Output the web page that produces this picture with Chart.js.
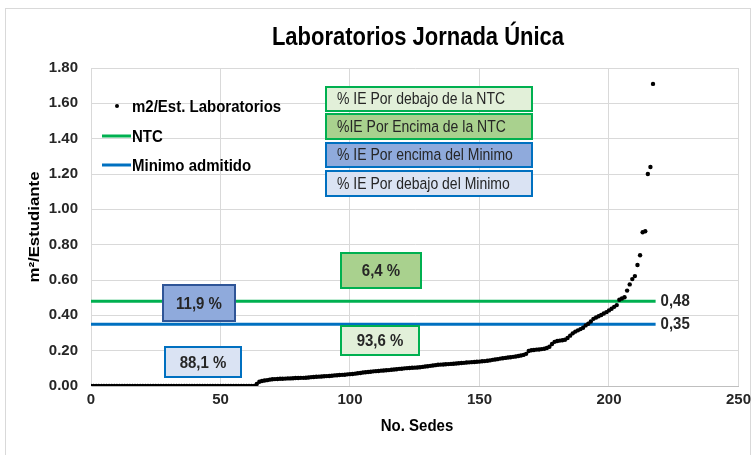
<!DOCTYPE html>
<html>
<head>
<meta charset="utf-8">
<script src="https://cdn.jsdelivr.net/npm/chart.js@4/dist/chart.umd.min.js"></script>
<style>body{margin:0;background:#fff}</style>
</head>
<body>
<canvas id="grafico" width="756" height="455"></canvas>
<script>
// Datos (m2 por estudiante, ordenados de menor a mayor)
const titulo = 'Laboratorios Jornada Única';
const m2PorEstudiante = [
    0, 0, 0, 0, 0, 0, 0, 0, 0, 0, 0, 0, 0, 0, 0, 0,
    0, 0, 0, 0, 0, 0, 0, 0, 0, 0, 0, 0, 0, 0, 0, 0,
    0, 0, 0, 0, 0, 0, 0, 0, 0, 0, 0, 0, 0, 0, 0, 0,
    0, 0, 0, 0, 0, 0, 0, 0, 0, 0, 0, 0, 0, 0, 0, 0,
    0.012, 0.024, 0.028, 0.031, 0.033, 0.036, 0.038, 0.039, 0.040, 0.041, 0.041, 0.042, 0.043, 0.043, 0.044, 0.045,
    0.045, 0.046, 0.046, 0.047, 0.048, 0.050, 0.051, 0.052, 0.053, 0.054, 0.055, 0.056, 0.057, 0.058, 0.060, 0.061,
    0.062, 0.063, 0.064, 0.066, 0.067, 0.068, 0.070, 0.072, 0.074, 0.076, 0.078, 0.079, 0.081, 0.083, 0.084, 0.085,
    0.087, 0.088, 0.089, 0.090, 0.092, 0.093, 0.095, 0.097, 0.098, 0.100, 0.101, 0.102, 0.103, 0.104, 0.105, 0.106,
    0.108, 0.110, 0.112, 0.114, 0.116, 0.118, 0.120, 0.121, 0.122, 0.123, 0.124, 0.125, 0.126, 0.127, 0.129, 0.130,
    0.131, 0.133, 0.134, 0.135, 0.136, 0.137, 0.138, 0.140, 0.141, 0.143, 0.145, 0.148, 0.150, 0.152, 0.155, 0.157,
    0.159, 0.161, 0.163, 0.165, 0.167, 0.170, 0.173, 0.176, 0.182, 0.198, 0.202, 0.204, 0.206, 0.207, 0.209, 0.211,
    0.215, 0.222, 0.238, 0.250, 0.255, 0.257, 0.259, 0.262, 0.272, 0.285, 0.298, 0.308, 0.315, 0.322, 0.330, 0.343,
    0.352, 0.365, 0.380, 0.388, 0.395, 0.402, 0.410, 0.418, 0.428, 0.437, 0.448, 0.458, 0.488, 0.495, 0.502, 0.540,
    0.575, 0.605, 0.622, 0.685, 0.740, 0.870, 0.876, 1.200, 1.240, 1.710
];
const valorNTC = 0.48;
const valorMinimo = 0.35;
const rangoSedes = [0, 218];
const etiquetasNivel = ['0,48', '0,35'];
const seriesLeyenda = ['m2/Est. Laboratorios', 'NTC', 'Minimo admitido'];
const textosCajas = ['% IE Por debajo de la NTC', '%IE Por Encima de la NTC', '% IE Por encima del Minimo', '% IE Por debajo del Minimo'];
const porcentajes = ['6,4 %', '11,9 %', '93,6 %', '88,1 %'];

const FUENTE = '"Liberation Sans", Arial, sans-serif';
const VERDE = '#00B050';
const AZUL = '#0070C0';

// Texto algo estirado en vertical, como en la imagen original
function texto(ctx, t, x, y, estiro) {
    ctx.save();
    ctx.translate(x, y);
    ctx.scale(1, estiro || 1.12);
    ctx.fillText(t, 0, 0);
    ctx.restore();
}

// Caja con relleno, borde y texto
function caja(ctx, x, y, w, h, relleno, borde, t, fuente, alinear) {
    ctx.fillStyle = relleno;
    ctx.fillRect(x, y, w, h);
    ctx.strokeStyle = borde;
    ctx.lineWidth = 2;
    ctx.strokeRect(x, y, w, h);
    ctx.fillStyle = '#262626';
    ctx.font = fuente;
    ctx.textBaseline = 'middle';
    if (alinear === 'left') {
        ctx.textAlign = 'left';
        texto(ctx, t, x + 11, y + h / 2 + 1);
    } else {
        ctx.textAlign = 'center';
        texto(ctx, t, x + w / 2, y + h / 2 + 1);
    }
}

const decoracion = {
    id: 'decoracion',
    beforeDraw(chart) {
        const ctx = chart.ctx;
        ctx.save();
        ctx.fillStyle = '#fff';
        ctx.fillRect(0, 0, chart.width, chart.height);
        ctx.strokeStyle = '#D9D9D9';
        ctx.lineWidth = 1;
        ctx.strokeRect(5.5, 8.5, 745, 460);
        ctx.restore();
    },
    afterDraw(chart) {
        const ctx = chart.ctx;
        const sx = chart.scales.x;
        const sy = chart.scales.y;
        ctx.save();

        // titulo
        ctx.fillStyle = '#000';
        ctx.font = 'bold 22px ' + FUENTE;
        ctx.textAlign = 'center';
        ctx.textBaseline = 'middle';
        texto(ctx, titulo, 418, 38, 1.15);

        // titulos de ejes
        ctx.font = 'bold 15px ' + FUENTE;
        texto(ctx, 'No. Sedes', 417, 426);
        ctx.save();
        ctx.translate(35, 227);
        ctx.rotate(-Math.PI / 2);
        ctx.scale(1.12, 1);
        ctx.fillText('m²/Estudiante', 0, 0);
        ctx.restore();

        // leyenda
        ctx.textAlign = 'left';
        ctx.fillStyle = '#000';
        ctx.beginPath();
        ctx.arc(117, 106, 2, 0, Math.PI * 2);
        ctx.fill();
        texto(ctx, seriesLeyenda[0], 132, 107);
        ctx.lineWidth = 3;
        ctx.strokeStyle = VERDE;
        ctx.beginPath(); ctx.moveTo(102, 136); ctx.lineTo(131, 136); ctx.stroke();
        texto(ctx, seriesLeyenda[1], 132, 137);
        ctx.strokeStyle = AZUL;
        ctx.beginPath(); ctx.moveTo(102, 165); ctx.lineTo(131, 165); ctx.stroke();
        texto(ctx, seriesLeyenda[2], 132, 166);

        // cajas explicativas
        const f14 = '14px ' + FUENTE;
        caja(ctx, 326, 87, 206, 24, '#E2F0D9', VERDE, textosCajas[0], f14, 'left');
        caja(ctx, 326, 114, 206, 25, '#A9D18E', VERDE, textosCajas[1], f14, 'left');
        caja(ctx, 326, 143, 206, 24, '#8FAADC', AZUL, textosCajas[2], f14, 'left');
        caja(ctx, 326, 171, 206, 25, '#DAE3F3', AZUL, textosCajas[3], f14, 'left');

        // porcentajes
        const f15 = 'bold 15px ' + FUENTE;
        caja(ctx, 341, 253, 80, 35, '#A9D18E', VERDE, porcentajes[0], f15);
        caja(ctx, 163, 285, 72, 36, '#8FAADC', '#2F5597', porcentajes[1], f15);
        caja(ctx, 341, 326, 78, 29, '#E2F0D9', VERDE, porcentajes[2], f15);
        caja(ctx, 165, 347, 76, 30, '#DAE3F3', AZUL, porcentajes[3], f15);

        // valores de las lineas
        ctx.fillStyle = '#262626';
        ctx.font = 'bold 15px ' + FUENTE;
        ctx.textAlign = 'left';
        ctx.textBaseline = 'middle';
        const xFin = sx.getPixelForValue(rangoSedes[1]) + 5;
        texto(ctx, etiquetasNivel[0], xFin, sy.getPixelForValue(valorNTC));
        texto(ctx, etiquetasNivel[1], xFin, sy.getPixelForValue(valorMinimo));
        ctx.restore();
    }
};

const ctx = document.getElementById('grafico').getContext('2d');
new Chart(ctx, {
    type: 'scatter',
    data: {
        datasets: [
            {
                label: seriesLeyenda[0],
                data: m2PorEstudiante.map((v, i) => ({ x: i, y: v })),
                backgroundColor: '#000',
                borderColor: '#000',
                pointRadius: 2.2,
                pointBorderWidth: 0
            },
            {
                label: seriesLeyenda[1],
                type: 'line',
                data: rangoSedes.map(s => ({ x: s, y: valorNTC })),
                borderColor: VERDE,
                borderWidth: 3,
                pointRadius: 0
            },
            {
                label: seriesLeyenda[2],
                type: 'line',
                data: rangoSedes.map(s => ({ x: s, y: valorMinimo })),
                borderColor: AZUL,
                borderWidth: 3,
                pointRadius: 0
            }
        ]
    },
    options: {
        responsive: false,
        animation: false,
        events: [],
        layout: { padding: { left: 0, right: 15, top: 68, bottom: 0 } },
        plugins: { legend: { display: false }, title: { display: false }, tooltip: { enabled: false } },
        scales: {
            x: {
                type: 'linear',
                min: 0, max: 250,
                afterFit: s => { s.height = 69; },
                ticks: { stepSize: 50, padding: 5, color: '#262626', font: { family: FUENTE, size: 15, weight: 'bold' } },
                grid: { color: '#D9D9D9', drawTicks: false },
                border: { color: '#BFBFBF' }
            },
            y: {
                min: 0, max: 1.8,
                afterFit: s => { s.width = 91; },
                ticks: { stepSize: 0.2, padding: 13, color: '#262626', font: { family: FUENTE, size: 15, weight: 'bold' },
                    callback: v => v.toFixed(2) },
                grid: { color: '#D9D9D9', drawTicks: false },
                border: { color: '#D9D9D9' }
            }
        }
    },
    plugins: [decoracion]
});
</script>
</body>
</html>
